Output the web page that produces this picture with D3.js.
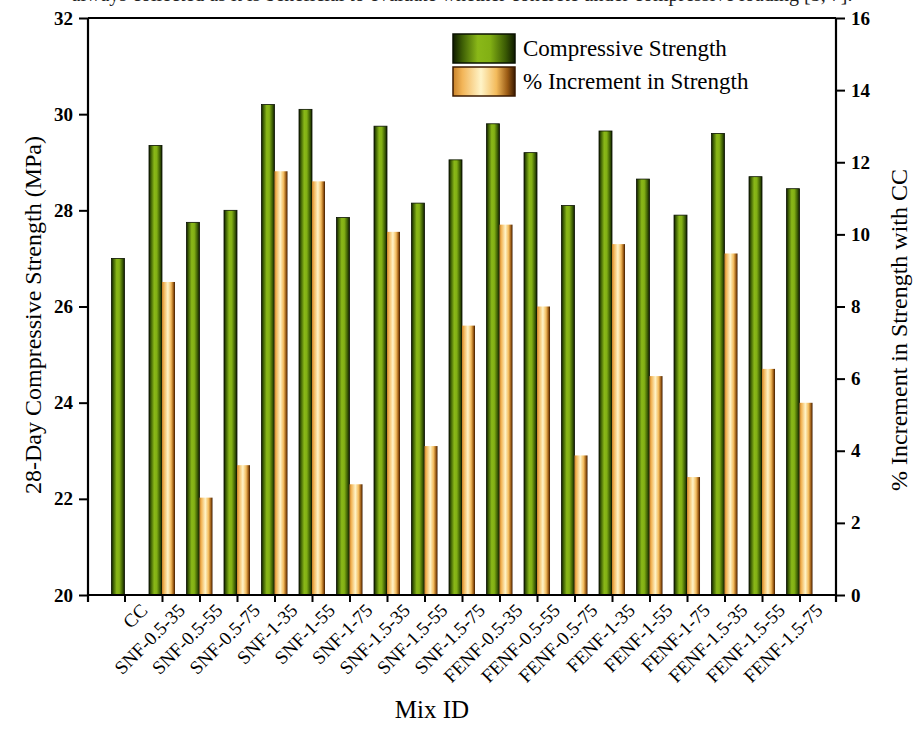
<!DOCTYPE html>
<html>
<head>
<meta charset="utf-8">
<script src="https://cdn.jsdelivr.net/npm/d3@7/dist/d3.min.js"></script>
<style>
  html, body { margin: 0; padding: 0; background: #fff; }
  svg { display: block; }
  svg text { font-family: "Liberation Serif", "Times New Roman", Times, "DejaVu Serif", serif !important; }
</style>
</head>
<body>
<svg id="chart" width="924" height="738"></svg>
<script>
const categories = ["CC","SNF-0.5-35","SNF-0.5-55","SNF-0.5-75","SNF-1-35","SNF-1-55","SNF-1-75",
  "SNF-1.5-35","SNF-1.5-55","SNF-1.5-75","FENF-0.5-35","FENF-0.5-55","FENF-0.5-75",
  "FENF-1-35","FENF-1-55","FENF-1-75","FENF-1.5-35","FENF-1.5-55","FENF-1.5-75"];
const strength = [27.0, 29.35, 27.75, 28.0, 30.2, 30.1, 27.85, 29.75, 28.15, 29.05,
  29.8, 29.2, 28.1, 29.65, 28.65, 27.9, 29.6, 28.7, 28.45];
const increment = [0, 8.68, 2.7, 3.6, 11.75, 11.47, 3.07, 10.07, 4.13, 7.47,
  10.27, 8.0, 3.87, 9.73, 6.07, 3.27, 9.47, 6.27, 5.33];
const leftTicks = [20, 22, 24, 26, 28, 30, 32];
const rightTicks = [0, 2, 4, 6, 8, 10, 12, 14, 16];
const seriesNames = ["Compressive Strength", "% Increment in Strength"];

const rows = categories.map((c, i) => ({ c, s: strength[i], p: increment[i] }));

const svg = d3.select("#chart");
const L = 88, R = 836, T = 18, B = 595;
const FONT = "'Liberation Serif', 'Times New Roman', Times, serif";

const defs = svg.append("defs");
const gG = defs.append("linearGradient").attr("id", "gGreen").attr("x1", "0").attr("x2", "1").attr("y1", "0").attr("y2", "0");
[[0, "#0f1a00"], [0.15, "#3d5e05"], [0.4, "#8ab818"], [0.6, "#82b014"], [0.85, "#3a5a04"], [1, "#0f1a00"]]
  .forEach(([o, c]) => gG.append("stop").attr("offset", o).attr("stop-color", c));
const gO = defs.append("linearGradient").attr("id", "gOrange").attr("x1", "0").attr("x2", "1").attr("y1", "0").attr("y2", "0");
[[0, "#c9822a"], [0.15, "#f2b558"], [0.45, "#fff4c8"], [0.7, "#f3bb5c"], [0.88, "#9a5a14"], [1, "#3b1a00"]]
  .forEach(([o, c]) => gO.append("stop").attr("offset", o).attr("stop-color", c));

// cut-off text line from the page above (cropped in the original too)
svg.append("text").attr("x", 462).attr("y", 1).attr("text-anchor", "middle")
  .attr("font-size", 20).attr("fill", "#222").attr("font-family", FONT)
  .text("always collected as it is beneficial to evaluate whether concrete under compressive loading [5, 7].");

const x = d3.scalePoint().domain(categories).range([L, R]).padding(0.973);
const yL = d3.scaleLinear().domain([20, 32]).range([B, T]);
const yR = d3.scaleLinear().domain([0, 16]).range([B, T]);
const bw = 13;

// bars
svg.append("g").selectAll("rect").data(rows).join("rect")
  .attr("x", d => x(d.c) - bw).attr("width", bw)
  .attr("y", d => yL(d.s)).attr("height", d => B - yL(d.s))
  .attr("fill", "url(#gGreen)").attr("stroke", "#0a1200").attr("stroke-width", 0.8);
svg.append("g").selectAll("rect").data(rows.filter(d => d.p > 0)).join("rect")
  .attr("x", d => x(d.c)).attr("width", bw)
  .attr("y", d => yR(d.p)).attr("height", d => B - yR(d.p))
  .attr("fill", "url(#gOrange)");

// axes
const axL = svg.append("g").attr("transform", `translate(${L},0)`)
  .call(d3.axisLeft(yL).tickValues(leftTicks).tickSize(9).tickPadding(6).tickFormat(d3.format("d")));
const axR = svg.append("g").attr("transform", `translate(${R},0)`)
  .call(d3.axisRight(yR).tickValues(rightTicks).tickSize(9).tickPadding(6).tickFormat(d3.format("d")));
const axB = svg.append("g").attr("transform", `translate(0,${B})`)
  .call(d3.axisBottom(x).tickSize(7).tickSizeOuter(0).tickPadding(8));
[axL, axR, axB].forEach(a => a.attr("font-family", FONT));
[axL, axR].forEach(a => {
  a.select(".domain").remove();
  a.selectAll("line").attr("stroke", "#000").attr("stroke-width", 2);
  a.selectAll("text").attr("font-size", 19).attr("font-weight", "bold").attr("fill", "#000");
});
axB.select(".domain").remove();
axB.selectAll("line").attr("stroke", "#000").attr("stroke-width", 2);
axB.selectAll("text").attr("font-size", 19).attr("fill", "#000")
  .attr("text-anchor", "end").attr("dy", "0.3em")
  .attr("transform", "translate(9,2) rotate(-45)");

// frame lines
const frame = svg.append("g").attr("stroke", "#000").attr("stroke-width", 2.2).attr("fill", "none");
frame.append("line").attr("x1", L).attr("x2", R).attr("y1", T).attr("y2", T);
frame.append("line").attr("x1", L).attr("x2", R).attr("y1", B).attr("y2", B);
frame.append("line").attr("x1", L).attr("x2", L).attr("y1", T).attr("y2", B + 7);
frame.append("line").attr("x1", R).attr("x2", R).attr("y1", T).attr("y2", B + 7);

// titles
svg.append("text").attr("transform", `translate(41,315) rotate(-90)`)
  .attr("text-anchor", "middle").attr("font-size", 24).attr("fill", "#000").attr("font-family", FONT)
  .text("28-Day Compressive Strength (MPa)");
svg.append("text").attr("transform", `translate(907,330) rotate(-90)`)
  .attr("text-anchor", "middle").attr("font-size", 24).attr("fill", "#000").attr("font-family", FONT)
  .text("% Increment in Strength with CC");
svg.append("text").attr("x", 432).attr("y", 718).attr("text-anchor", "middle")
  .attr("font-size", 25).attr("fill", "#000").attr("font-family", FONT).text("Mix ID");

// legend
const leg = svg.append("g");
const fills = ["url(#gGreen)", "url(#gOrange)"];
seriesNames.forEach((n, i) => {
  const yy = 34 + i * 33;
  leg.append("rect").attr("x", 453).attr("y", yy).attr("width", 62).attr("height", 29)
    .attr("fill", fills[i]).attr("stroke", i === 0 ? "#0a1200" : "#3b1a00").attr("stroke-width", 1.5);
  leg.append("text").attr("x", 523).attr("y", yy + 22).attr("font-size", 23).attr("fill", "#000")
    .attr("font-family", FONT).text(n);
});
</script>
</body>
</html>
